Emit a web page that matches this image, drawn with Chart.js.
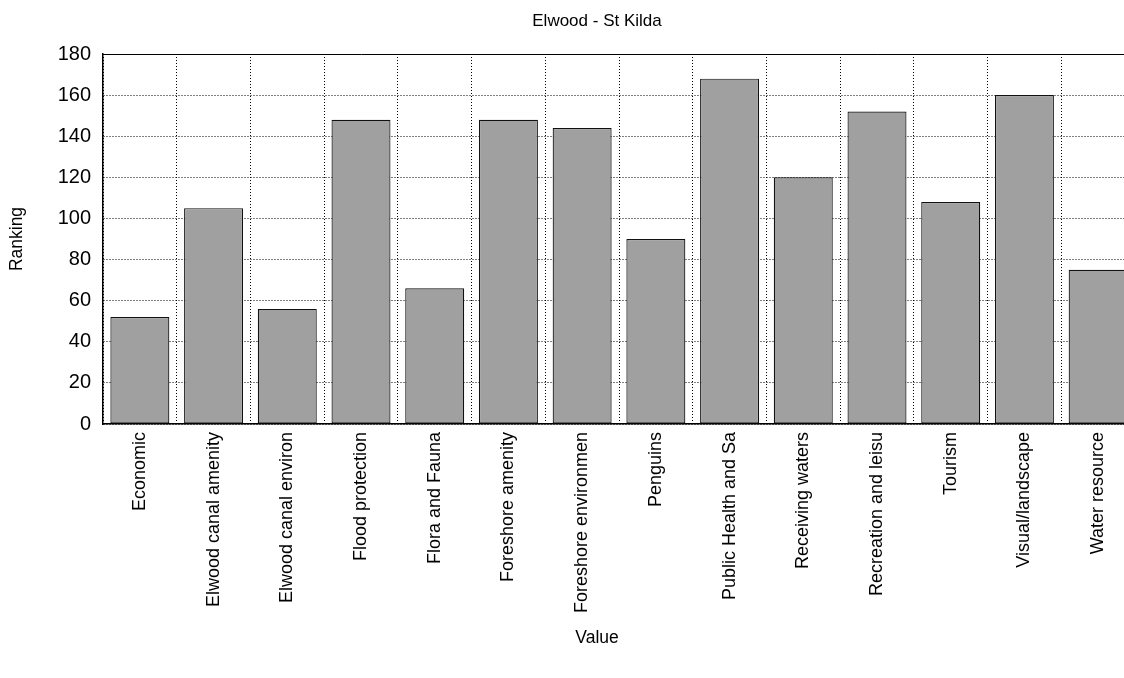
<!DOCTYPE html>
<html>
<head>
<meta charset="utf-8">
<title>Elwood - St Kilda</title>
<script src="https://cdn.jsdelivr.net/npm/chart.js@4.4.1/dist/chart.umd.min.js"></script>
<style>
html, body { margin: 0; padding: 0; background: #fff; overflow: hidden; }
#wrap { position: relative; width: 1194px; height: 678px; }
</style>
</head>
<body>
<div id="wrap"><canvas id="rankChart"></canvas></div>
<script>
const chartTitle = 'Elwood - St Kilda';
const xTitle = 'Value';
const yTitle = 'Ranking';

const categories = [
    'Economic', 'Elwood canal amenity', 'Elwood canal environ', 'Flood protection',
    'Flora and Fauna', 'Foreshore amenity', 'Foreshore environmen', 'Penguins',
    'Public Health and Sa', 'Receiving waters', 'Recreation and leisu', 'Tourism',
    'Visual/landscape', 'Water resource'
];
const rankings = [52, 105, 56, 148, 66, 148, 144, 90, 168, 120, 152, 108, 160, 75];
const yTicks = [0, 20, 40, 60, 80, 100, 120, 140, 160, 180];

const FONT = "'Liberation Sans', Arial, Helvetica, sans-serif";

// titles are centred on the whole figure, not on the plot box
const figureTitles = {
    id: 'figureTitles',
    afterDraw(chart) {
        const ctx = chart.ctx;
        ctx.save();
        ctx.fillStyle = '#000';
        ctx.textAlign = 'center';
        ctx.textBaseline = 'middle';
        ctx.font = '17px ' + FONT;
        ctx.fillText(chartTitle, 597, 21);
        ctx.font = '17.5px ' + FONT;
        ctx.fillText(xTitle, 597, 638);
        ctx.translate(17, (chart.chartArea.top + chart.chartArea.bottom) / 2);
        ctx.rotate(-Math.PI / 2);
        ctx.fillText(yTitle, 0, 0);
        ctx.restore();
    }
};

const ctx = document.getElementById('rankChart').getContext('2d');
const chart = new Chart(ctx, {
    type: 'bar',
    data: {
        labels: categories,
        datasets: [{
            data: rankings,
            backgroundColor: '#a0a0a0',
            borderColor: '#111',
            borderWidth: 1.2,
            borderSkipped: false,
            categoryPercentage: 1.0,
            barPercentage: 0.8
        }]
    },
    options: {
        responsive: true,
        maintainAspectRatio: false,
        animation: false,
        layout: { padding: { top: 54, right: 59, bottom: 0, left: 0 } },
        plugins: {
            legend: { display: false },
            title: { display: false },
            tooltip: { enabled: false }
        },
        scales: {
            x: {
                grid: { color: '#000', lineWidth: 1, offset: true, drawTicks: false },
                border: { display: true, color: '#000', width: 1.5, dash: [1, 2] },
                ticks: {
                    autoSkip: false,
                    minRotation: 90,
                    maxRotation: 90,
                    padding: 8,
                    color: '#000',
                    font: { family: FONT, size: 18 }
                },
                afterFit(scale) { scale.height = 254; }
            },
            y: {
                min: 0,
                max: 180,
                afterBuildTicks(scale) { scale.ticks = yTicks.map(v => ({ value: v })); },
                grid: { color: '#000', lineWidth: 1, drawTicks: false },
                border: {
                    display: true, color: '#000', width: 1.5,
                    dash: c => (c.tick && c.tick.value === 180) ? [] : [1, 2]
                },
                ticks: { padding: 12, color: '#000', font: { family: FONT, size: 20 } },
                afterFit(scale) { scale.width = 103; }
            }
        }
    },
    plugins: [figureTitles]
});
</script>
</body>
</html>
